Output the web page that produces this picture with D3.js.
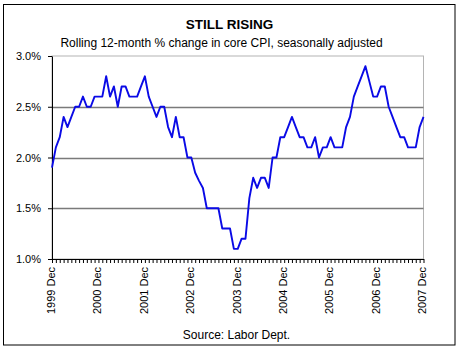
<!DOCTYPE html>
<html>
<head>
<meta charset="utf-8">
<script src="https://cdn.jsdelivr.net/npm/d3@7"></script>
<style>
  html, body { margin: 0; padding: 0; background: #fff; }
  svg { display: block; }
  text { font-family: "Liberation Sans", Arial, sans-serif; fill: #000; }
</style>
</head>
<body>
<svg id="chart" width="460" height="350"></svg>
<script>
const titleText = "STILL RISING";
const subtitleText = "Rolling 12-month % change in core CPI, seasonally adjusted";
const sourceText = "Source: Labor Dept.";
const yTicks = [1.0, 1.5, 2.0, 2.5, 3.0];
const gridValues = [1.5, 2.0, 2.5];
const xTickLabels = ["1999 Dec", "2000 Dec", "2001 Dec", "2002 Dec", "2003 Dec",
                     "2004 Dec", "2005 Dec", "2006 Dec", "2007 Dec"];
// Monthly values, Dec 1999 .. Dec 2007 (97 months)
const coreCPI = [
  1.9,
  2.1, 2.2, 2.4, 2.3, 2.4, 2.5, 2.5, 2.6, 2.5, 2.5, 2.6, 2.6,
  2.6, 2.8, 2.6, 2.7, 2.5, 2.7, 2.7, 2.6, 2.6, 2.6, 2.7, 2.8,
  2.6, 2.5, 2.4, 2.5, 2.5, 2.3, 2.2, 2.4, 2.2, 2.2, 2.0, 2.0,
  1.85, 1.77, 1.7, 1.5, 1.5, 1.5, 1.5, 1.3, 1.3, 1.3, 1.1, 1.1,
  1.2, 1.2, 1.6, 1.8, 1.7, 1.8, 1.8, 1.7, 2.0, 2.0, 2.2, 2.2,
  2.3, 2.4, 2.3, 2.2, 2.2, 2.1, 2.1, 2.2, 2.0, 2.1, 2.1, 2.2,
  2.1, 2.1, 2.1, 2.3, 2.4, 2.6, 2.7, 2.8, 2.9, 2.75, 2.6, 2.6,
  2.7, 2.7, 2.5, 2.4, 2.3, 2.2, 2.2, 2.1, 2.1, 2.1, 2.3, 2.4
];

const svg = d3.select("#chart");
const W = 460, H = 350;
const plot = { left: 52, right: 423.5, top: 56, bottom: 259 };

// outer frame
svg.append("rect").attr("x", 3.5).attr("y", 4.5).attr("width", 451.5).attr("height", 340.5)
  .attr("fill", "#fff").attr("stroke", "#000").attr("stroke-width", 1);

const x = d3.scaleLinear().domain([0, coreCPI.length - 1]).range([plot.left, plot.right]);
const y = d3.scaleLinear().domain([1.0, 3.0]).range([plot.bottom, plot.top]);

// plot border (light)
svg.append("rect")
  .attr("x", plot.left).attr("y", plot.top)
  .attr("width", plot.right - plot.left).attr("height", plot.bottom - plot.top)
  .attr("fill", "#fff").attr("stroke", "#b4b4b4").attr("stroke-width", 1)
  .attr("stroke-dasharray", null);

// gridlines
svg.append("g").selectAll("line").data(gridValues).join("line")
  .attr("x1", plot.left).attr("x2", plot.right)
  .attr("y1", d => Math.round(y(d)) + 0.5).attr("y2", d => Math.round(y(d)) + 0.5)
  .attr("stroke", "#7a7a7a").attr("stroke-width", 1.4);

// y axis
const yAxis = d3.axisLeft(y).tickValues(yTicks).tickFormat(d => d.toFixed(1) + "%")
  .tickSize(4).tickSizeOuter(0).tickPadding(7);
const gy = svg.append("g").attr("transform", `translate(${plot.left},0)`).call(yAxis);
gy.selectAll("text").style("font-size", "11px").style("font-family", "Liberation Sans, Arial, sans-serif");
gy.select(".domain").attr("stroke", "#000");

// x axis with monthly ticks
const xAxis = d3.axisBottom(x).tickValues(d3.range(coreCPI.length)).tickFormat("")
  .tickSize(4).tickSizeOuter(0);
const gx = svg.append("g").attr("transform", `translate(0,${plot.bottom})`).call(xAxis);
gx.select(".domain").attr("stroke", "#000");

// x labels every 12 months (rotated)
svg.append("g").selectAll("text").data(xTickLabels).join("text")
  .attr("transform", (d, i) => `translate(${x(i * 12) - 1},${plot.bottom + 8}) rotate(-90)`)
  .attr("text-anchor", "end").attr("dy", "0.35em")
  .style("font-size", "11px")
  .text(d => d);

// line
const line = d3.line().x((d, i) => x(i)).y(d => y(d));
svg.append("path").datum(coreCPI)
  .attr("d", line).attr("fill", "none")
  .attr("stroke", "#0a0ae6").attr("stroke-width", 1.9)
  .attr("stroke-linejoin", "round");

// titles
svg.append("text").attr("x", 229.5).attr("y", 29).attr("text-anchor", "middle")
  .style("font-size", "13.5px").style("font-weight", "bold").text(titleText);
svg.append("text").attr("x", 221.5).attr("y", 47).attr("text-anchor", "middle")
  .style("font-size", "12px").text(subtitleText);
svg.append("text").attr("x", 236.5).attr("y", 339).attr("text-anchor", "middle")
  .style("font-size", "12px").text(sourceText);
</script>
</body>
</html>
